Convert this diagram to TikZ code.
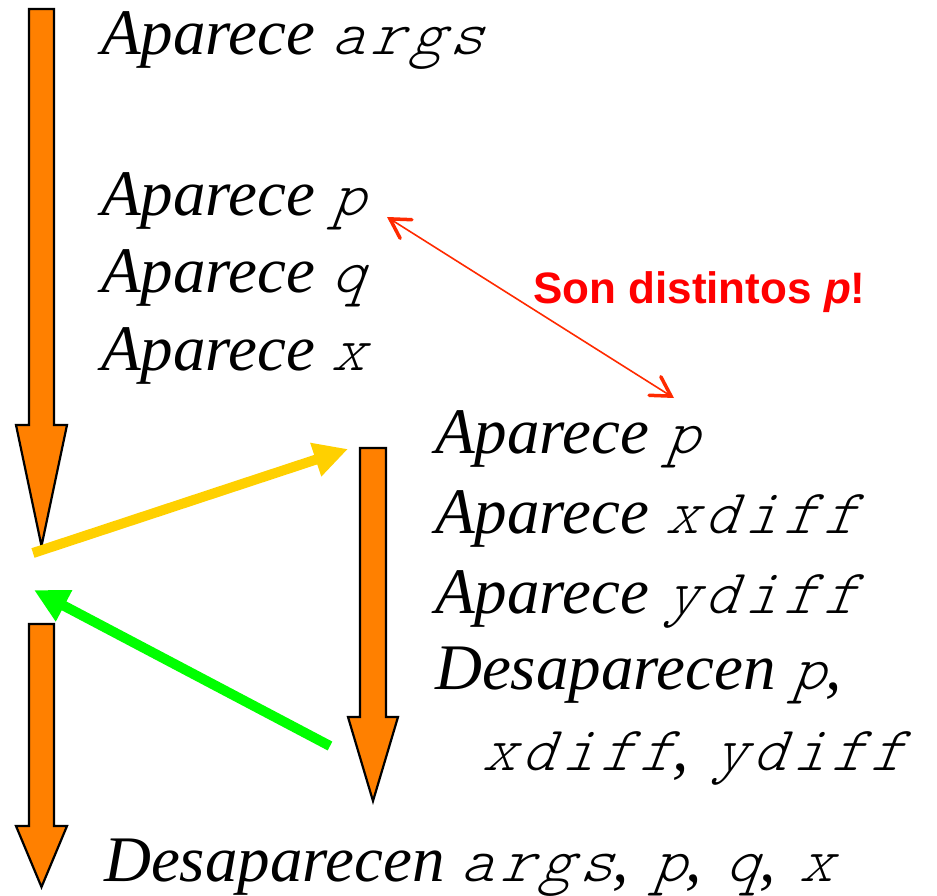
\documentclass[tikz,border=0pt]{standalone}
\usepackage{fontspec}
\setmainfont{Liberation Serif}
\newfontfamily\cour{Latin Modern Mono Light}[FakeSlant=0.21,LetterSpace=10,Scale=0.97]
\newfontfamily\lsans{Liberation Sans}
\usetikzlibrary{arrows.meta}
\definecolor{blockorange}{HTML}{FF8000}
\definecolor{arrowyellow}{HTML}{FFD000}
\definecolor{arrowgreen}{HTML}{00FF00}
\definecolor{notered}{HTML}{FF2A00}
\newcommand{\mono}[1]{{\cour #1}}
\newcommand{\sepc}{,\ \hspace{0.12em}}
\begin{document}
\begin{tikzpicture}[x=1pt,y=-1pt,
  txt/.style={anchor=base west,inner sep=0pt,font=\fontsize{65}{65}\selectfont\itshape},
  blockarrow/.style={fill=blockorange,draw=black,line width=2.2pt,line join=miter},
  fatarrow/.style={line width=10pt,-{Triangle[length=34pt,width=33pt]}},
  thinarrow/.style={draw=notered,line width=1.6pt,{Straight Barb[length=19pt,width=22pt,line width=3.5pt,line cap=round]}-{Straight Barb[length=19pt,width=22pt,line width=3.5pt,line cap=round]}}
]
\useasboundingbox (0,0) rectangle (937,896);

% block arrows
\draw[blockarrow] (29,9) -- (54,9) -- (54,425) -- (67,425) -- (41.5,546) -- (16,425) -- (29,425) -- cycle;
\draw[blockarrow] (360,448) -- (386,448) -- (386,717) -- (398,717) -- (373,801) -- (348,717) -- (360,717) -- cycle;
\draw[blockarrow] (29,624) -- (54,624) -- (54,826) -- (67,826) -- (41.5,887) -- (16,826) -- (29,826) -- cycle;

% texts
\node[txt] (t1) at (101,55) {Aparece \mono{args}};
\node[txt] (t2) at (101,215) {Aparece \mono{p}};
\node[txt] (t3) at (101,292) {Aparece \mono{q}};
\node[txt] (t4) at (101,370) {Aparece \mono{x}};
\node[txt] (r1) at (435,453) {Aparece \mono{p}};
\node[txt] (r2) at (435,533) {Aparece \mono{xdiff}};
\node[txt] (r3) at (435,613) {Aparece \mono{ydiff}};
\node[txt] (r4) at (435,689) {Desaparecen \mono{p},};
\node[txt] (r5) at (482,770) {\mono{xdiff}\sepc\mono{ydiff}};
\node[txt] (b1) at (104,881) {Desaparecen \mono{args}\sepc\mono{p}\sepc\mono{q}\sepc\mono{x}};

% note label
\node[anchor=base west,inner sep=0pt,text=red,font=\fontsize{44}{44}\selectfont\lsans\bfseries] (note) at (533,303) {Son distintos \textit{p}!};

% connector coordinates
\coordinate (ytail) at (33,553);
\coordinate (yhead) at (348,449);
\coordinate (gtail) at (330,746);
\coordinate (ghead) at (34,590);
\coordinate (pa) at (387,217);
\coordinate (pb) at (674,398);

\draw[arrowyellow,fatarrow] (ytail) -- (yhead);
\draw[arrowgreen,fatarrow] (gtail) -- (ghead);
\draw[thinarrow] (pa) -- (pb);
\end{tikzpicture}
\end{document}
